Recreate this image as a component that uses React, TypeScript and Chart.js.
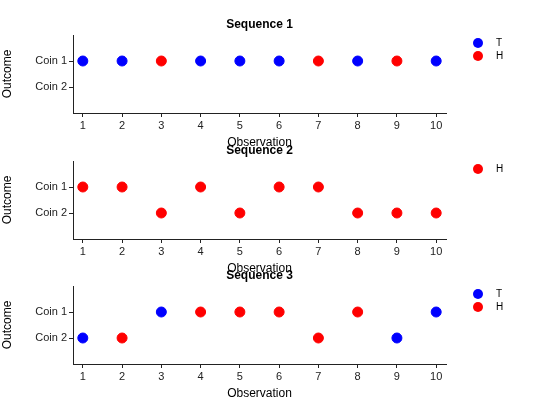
import React, { useEffect, useRef } from "react";
import { Chart, registerables } from "chart.js";
Chart.register(...registerables);

const observations = [1, 2, 3, 4, 5, 6, 7, 8, 9, 10];
const coinLabels: Record<number, string> = { 2: "Coin 1", 1: "Coin 2" };
// coin: 1 = Coin 1, 2 = Coin 2 ; face: T or H
const seq1Coin = [1, 1, 1, 1, 1, 1, 1, 1, 1, 1];
const seq1Face = ["T", "T", "H", "T", "T", "T", "H", "T", "H", "T"];
const seq2Coin = [1, 1, 2, 1, 2, 1, 1, 2, 2, 2];
const seq2Face = ["H", "H", "H", "H", "H", "H", "H", "H", "H", "H"];
const seq3Coin = [2, 2, 1, 1, 1, 1, 2, 1, 2, 1];
const seq3Face = ["T", "H", "T", "H", "H", "H", "H", "H", "T", "T"];
const titles = ["Sequence 1", "Sequence 2", "Sequence 3"];

const BLUE = "#0000ff";
const RED = "#ff0000";
const FONT = "'Liberation Sans', Arial, sans-serif";

function Sub({ coins, faces, title, top }: { coins: number[]; faces: string[]; title: string; top: number }) {
  const ref = useRef<HTMLCanvasElement>(null);
  useEffect(() => {
    const mk = (f: string) =>
      observations
        .map((x, i) => ({ x, y: coins[i] === 1 ? 2 : 1, f: faces[i] }))
        .filter((p) => p.f === f)
        .map(({ x, y }) => ({ x, y }));
    const faceSet = ["T", "H"].filter((f) => faces.includes(f));
    const datasets = faceSet.map((f) => ({
      label: f,
      data: mk(f),
      backgroundColor: f === "T" ? BLUE : RED,
      borderColor: f === "T" ? BLUE : RED,
      pointRadius: 5,
      pointHoverRadius: 5,
    }));
    const deco = {
      id: "deco",
      afterDraw(c: any) {
        const ctx = c.ctx;
        const a = c.chartArea;
        ctx.save();
        ctx.fillStyle = "#000";
        ctx.font = `bold 12px ${FONT}`;
        ctx.textAlign = "center";
        ctx.textBaseline = "middle";
        ctx.fillText(title, (a.left + a.right) / 2, a.top - 10);
        faceSet.forEach((f, i) => {
          const y = a.top + 8 + i * 13;
          ctx.beginPath();
          ctx.fillStyle = f === "T" ? BLUE : RED;
          ctx.arc(478, y, 5, 0, Math.PI * 2);
          ctx.fill();
          ctx.fillStyle = "#000";
          ctx.font = `10px ${FONT}`;
          ctx.textAlign = "left";
          ctx.fillText(f, 496, y);
        });
        ctx.restore();
      },
    };
    const ch = new Chart(ref.current!, {
      type: "scatter",
      data: { datasets },
      plugins: [deco],
      options: {
        animation: false,
        responsive: false,
        layout: { padding: { top: 35, right: 114, left: 0, bottom: 0 } },
        plugins: { legend: { display: false }, tooltip: { enabled: false } },
        scales: {
          x: {
            type: "linear",
            min: 0.75,
            max: 10.25,
            afterBuildTicks: (s: any) => { s.ticks = observations.map((v) => ({ value: v })); },
            afterFit: (s: any) => { s.height = 37; },
            ticks: { color: "#222", font: { family: FONT, size: 11 }, padding: 2, maxRotation: 0 },
            grid: { display: true, drawOnChartArea: false, tickLength: 4, color: "#222" },
            border: { color: "#222" },
            title: { display: true, text: "Observation", color: "#000", font: { family: FONT, size: 12 }, padding: 0 },
          },
          y: {
            type: "linear",
            min: 0,
            max: 3,
            afterBuildTicks: (s: any) => { s.ticks = [{ value: 1 }, { value: 2 }]; },
            afterFit: (s: any) => { s.width = 73; },
            ticks: { color: "#222", font: { family: FONT, size: 11 }, padding: 2, callback: (v: any) => coinLabels[v] ?? "" },
            grid: { display: true, drawOnChartArea: false, tickLength: 4, color: "#222" },
            border: { color: "#222" },
            title: { display: true, text: "Outcome", color: "#000", font: { family: FONT, size: 12 }, padding: 0 },
          },
        },
      },
    });
    return () => ch.destroy();
  }, []);
  return <canvas ref={ref} width={560} height={150} style={{ position: "absolute", left: 0, top, width: 560, height: 150 }} />;
}

export default function App() {
  return (
    <div style={{ position: "fixed", left: 0, top: 0, width: 560, height: 420, background: "#fff" }}>
      <Sub coins={seq1Coin} faces={seq1Face} title={titles[0]} top={0} />
      <Sub coins={seq2Coin} faces={seq2Face} title={titles[1]} top={125.5} />
      <Sub coins={seq3Coin} faces={seq3Face} title={titles[2]} top={251} />
    </div>
  );
}
